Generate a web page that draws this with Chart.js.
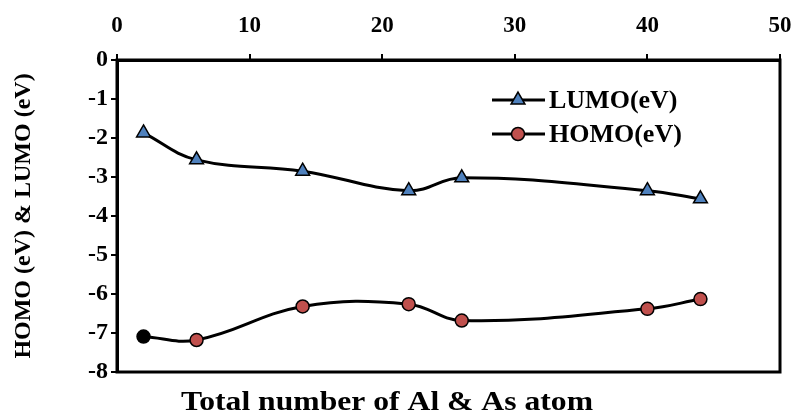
<!DOCTYPE html>
<html>
<head>
<meta charset="utf-8">
<script src="https://cdn.jsdelivr.net/npm/chart.js@4.4.0/dist/chart.umd.min.js"></script>
<style>
  html, body { margin: 0; padding: 0; background: #fff; }
  #wrap { width: 794px; height: 416px; }
</style>
</head>
<body>
<div id="wrap"><canvas id="myChart" width="794" height="416"></canvas></div>
<script>
const atoms = [2, 6, 14, 22, 26, 40, 44];
const lumo = [-1.87, -2.56, -2.85, -3.35, -3.02, -3.35, -3.56];
const homo = [-7.09, -7.18, -6.32, -6.26, -6.68, -6.38, -6.13];
const xTicks = [0, 10, 20, 30, 40, 50];
const yTicks = [0, -1, -2, -3, -4, -5, -6, -7, -8];

const serif = "'Liberation Serif', 'Times New Roman', serif";

// pares x,y para la escala lineal
const toPoints = (ys) => atoms.map((x, i) => ({ x: x, y: ys[i] }));

// homo: primer punto negro, los demas rojos
const homoFill = homo.map((v, i) => i === 0 ? '#000000' : '#C0504D');

const data = {
  datasets: [{
    label: 'LUMO(eV)',
    data: toPoints(lumo),
    borderColor: '#000000',
    borderWidth: 3,
    tension: 0.4,
    pointStyle: 'triangle',
    pointRadius: 8,
    pointBackgroundColor: '#4F81BD',
    pointBorderColor: '#000000',
    pointBorderWidth: 1.5
  }, {
    label: 'HOMO(eV)',
    data: toPoints(homo),
    borderColor: '#000000',
    borderWidth: 3,
    tension: 0.4,
    pointStyle: 'circle',
    pointRadius: 6.5,
    pointBackgroundColor: homoFill,
    pointBorderColor: '#000000',
    pointBorderWidth: 1.5
  }]
};

// marco, leyenda y titulo del eje x
const extras = {
  id: 'extras',
  beforeDatasetsDraw(chart) {
    const { ctx, chartArea: a } = chart;
    ctx.save();
    ctx.strokeStyle = '#000';
    ctx.lineWidth = 3;
    ctx.strokeRect(a.left, a.top, a.right - a.left, a.bottom - a.top);
    ctx.restore();
  },
  afterDraw(chart) {
    const ctx = chart.ctx;
    ctx.save();
    // leyenda
    const rows = [
      { y: 100, ds: chart.data.datasets[0], fill: '#4F81BD' },
      { y: 134, ds: chart.data.datasets[1], fill: '#C0504D' }
    ];
    rows.forEach(r => {
      ctx.strokeStyle = '#000';
      ctx.lineWidth = 3;
      ctx.beginPath();
      ctx.moveTo(492, r.y);
      ctx.lineTo(545, r.y);
      ctx.stroke();
      ctx.fillStyle = r.fill;
      ctx.lineWidth = 1.5;
      Chart.helpers.drawPoint(ctx, {
        pointStyle: r.ds.pointStyle,
        radius: r.ds.pointRadius,
        borderWidth: 1.5
      }, 518, r.y);
      ctx.fillStyle = '#000';
      ctx.font = 'bold 26px ' + serif;
      ctx.textAlign = 'left';
      ctx.textBaseline = 'middle';
      ctx.fillText(r.ds.label, 549, r.y + 1);
    });
    // titulo eje x, algo estirado a lo ancho como en el original
    const txt = 'Total number of Al & As atom';
    ctx.font = 'bold 27px ' + serif;
    const w = ctx.measureText(txt).width;
    const sx = 412 / w;
    ctx.translate(181, 410);
    ctx.scale(sx, 1);
    ctx.textAlign = 'left';
    ctx.textBaseline = 'alphabetic';
    ctx.fillText(txt, 0, 0);
    ctx.restore();
  }
};

const config = {
  type: 'line',
  data,
  options: {
    responsive: false,
    animation: false,
    layout: { padding: { top: 0, right: 14, bottom: 44, left: 0 } },
    plugins: {
      legend: { display: false },
      tooltip: { enabled: false }
    },
    scales: {
      x: {
        type: 'linear',
        position: 'top',
        min: 0,
        max: 50,
        afterBuildTicks: (s) => { s.ticks = xTicks.map(v => ({ value: v })); },
        afterFit: (s) => { s.height = 60; s.paddingLeft = 0; s.paddingRight = 0; },
        grid: { drawOnChartArea: false, tickLength: 6, color: '#000', lineWidth: 2 },
        border: { color: '#000', width: 3 },
        ticks: { color: '#000', padding: 14, font: { family: serif, size: 23, weight: 'bold' } }
      },
      y: {
        min: -8,
        max: 0,
        afterBuildTicks: (s) => { s.ticks = yTicks.map(v => ({ value: v })); },
        afterFit: (s) => { s.width = 117; s.paddingTop = 0; s.paddingBottom = 0; },
        grid: { drawOnChartArea: false, tickLength: 6, color: '#000', lineWidth: 2 },
        border: { color: '#000', width: 3 },
        ticks: { color: '#000', padding: 3, font: { family: serif, size: 24, weight: 'bold' } },
        title: {
          display: true,
          text: 'HOMO (eV) & LUMO (eV)',
          color: '#000',
          padding: { top: 9, bottom: 0 },
          font: { family: serif, size: 24, weight: 'bold' }
        }
      }
    }
  },
  plugins: [extras]
};

const myChart = new Chart(document.getElementById('myChart'), config);
</script>
</body>
</html>
